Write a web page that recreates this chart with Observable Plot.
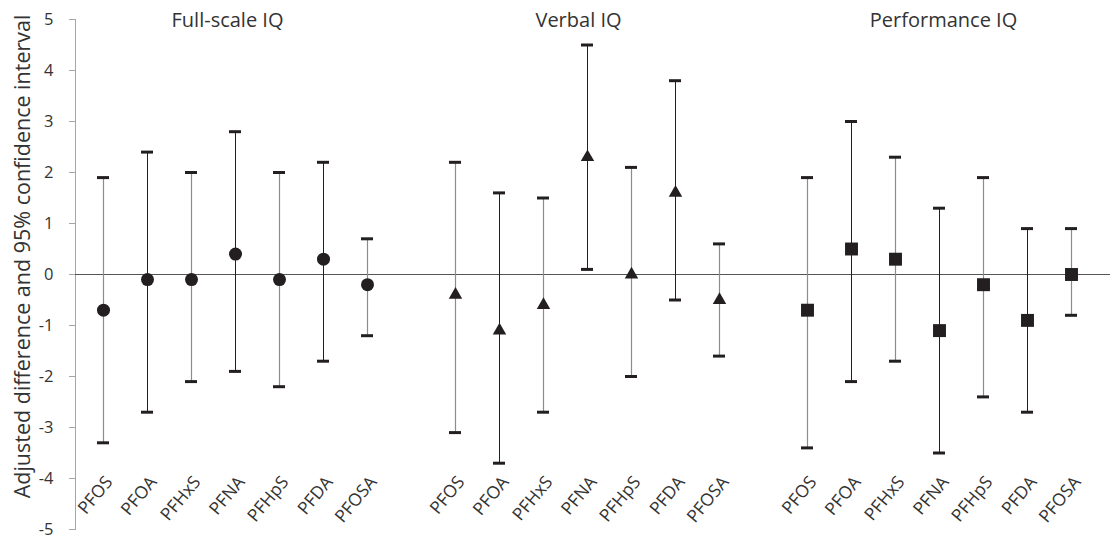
<!DOCTYPE html>
<html>
<head>
<meta charset="utf-8">
<script src="https://cdn.jsdelivr.net/npm/d3@7"></script>
<script src="https://cdn.jsdelivr.net/npm/@observablehq/plot@0.6"></script>
<style>
  html, body { margin: 0; padding: 0; background: #fff; }
  #chart { width: 1112px; height: 537px; }
</style>
</head>
<body>
<div id="chart"></div>
<script>
const groups = ["Full-scale IQ", "Verbal IQ", "Performance IQ"];
const compounds = ["PFOS", "PFOA", "PFHxS", "PFNA", "PFHpS", "PFDA", "PFOSA"];

const fullEst = [-0.7, -0.1, -0.1, 0.4, -0.1, 0.3, -0.2];
const fullLo  = [-3.3, -2.7, -2.1, -1.9, -2.2, -1.7, -1.2];
const fullHi  = [ 1.9,  2.4,  2.0,  2.8,  2.0,  2.2,  0.7];

const verbalEst = [-0.4, -1.1, -0.6, 2.3, 0.0, 1.6, -0.5];
const verbalLo  = [-3.1, -3.7, -2.7, 0.1, -2.0, -0.5, -1.6];
const verbalHi  = [ 2.2,  1.6,  1.5, 4.5,  2.1,  3.8,  0.6];

const perfEst = [-0.7, 0.5, 0.3, -1.1, -0.2, -0.9, 0.0];
const perfLo  = [-3.4, -2.1, -1.7, -3.5, -2.4, -2.7, -0.8];
const perfHi  = [ 1.9,  3.0,  2.3,  1.3,  1.9,  0.9,  0.9];

const yTicks = [-5, -4, -3, -2, -1, 0, 1, 2, 3, 4, 5];
const yTickLabels = ["-5", "-4", "-3", "-2", "-1", "0", "1", "2", "3", "4", "5"];
const yLabel = "Adjusted difference and 95% confidence interval";

const series = [
  {est: fullEst, lo: fullLo, hi: fullHi},
  {est: verbalEst, lo: verbalLo, hi: verbalHi},
  {est: perfEst, lo: perfLo, hi: perfHi}
];

// slots: 7 per group with one empty slot between groups
const slots = [];
const rows = [];
groups.forEach((g, gi) => {
  compounds.forEach((c, ci) => {
    const key = g + "|" + c;
    slots.push(key);
    rows.push({key, group: g, gi, ci, compound: c,
      est: series[gi].est[ci], lo: series[gi].lo[ci], hi: series[gi].hi[ci]});
  });
  if (gi < groups.length - 1) slots.push("gap" + gi);
});
const groupCenter = (g) => g + "|" + compounds[3];

const FONT = "Open Sans";
const DARK = "#231f20";
const GREY = "#8c8c8c";
const TEXT = "#333";
const symbols = ["circle", "triangle", "square"];
const radii = [6.5, 5.0, 7.3];
const titleShift = [-8, -9, 4];

const marks = [
  Plot.frame({anchor: "left", stroke: "#a6a6a6"}),
  Plot.ruleY([0], {stroke: "#555", strokeWidth: 1}),
  Plot.axisY({
    ticks: yTicks,
    tickFormat: (d) => yTickLabels[yTicks.indexOf(d)],
    tickSize: 6, tickPadding: 16,
    stroke: "#a6a6a6", fill: TEXT,
    fontSize: 16.5, fontFamily: FONT, label: null
  }),
  Plot.ruleX(rows.filter(d => d.ci % 2 === 0), {x: "key", y1: "lo", y2: "hi", stroke: GREY, strokeWidth: 1.2}),
  Plot.ruleX(rows.filter(d => d.ci % 2 === 1), {x: "key", y1: "lo", y2: "hi", stroke: DARK, strokeWidth: 1}),
  Plot.tickY(rows, {x: "key", y: "lo", stroke: DARK, strokeWidth: 3, insetLeft: 16, insetRight: 16}),
  Plot.tickY(rows, {x: "key", y: "hi", stroke: DARK, strokeWidth: 3, insetLeft: 16, insetRight: 16}),
  ...groups.map((g, gi) => Plot.dot(rows.filter(d => d.gi === gi), {
    x: "key", y: "est", symbol: symbols[gi], r: radii[gi], fill: DARK, stroke: "none"
  })),
  Plot.text(rows, {
    x: "key", text: "compound", frameAnchor: "bottom",
    rotate: -50, textAnchor: "end", lineAnchor: "bottom",
    dx: 10, dy: -47, fontSize: 17.5, fontFamily: FONT, fill: TEXT
  }),
  ...groups.map((g, gi) => Plot.text([g], {
    x: groupCenter, text: d => d, frameAnchor: "top", lineAnchor: "middle",
    dx: titleShift[gi], dy: 1, fontSize: 20, fontFamily: FONT, fill: TEXT
  })),
  Plot.text([yLabel], {
    text: d => d, frameAnchor: "left", rotate: -90, lineAnchor: "middle", textAnchor: "middle",
    dx: -52, dy: -18, fontSize: 21.5, fontFamily: FONT, fill: TEXT
  })
];

const chart = Plot.plot({
  width: 1112,
  height: 537,
  marginLeft: 75,
  marginRight: 2,
  marginTop: 19,
  marginBottom: 8,
  style: {fontFamily: FONT, background: "#fff"},
  x: {type: "band", domain: slots, range: [75, 1099], padding: 0, axis: null},
  y: {domain: [-5, 5], axis: null},
  marks
});
document.getElementById("chart").appendChild(chart);
</script>
</body>
</html>
